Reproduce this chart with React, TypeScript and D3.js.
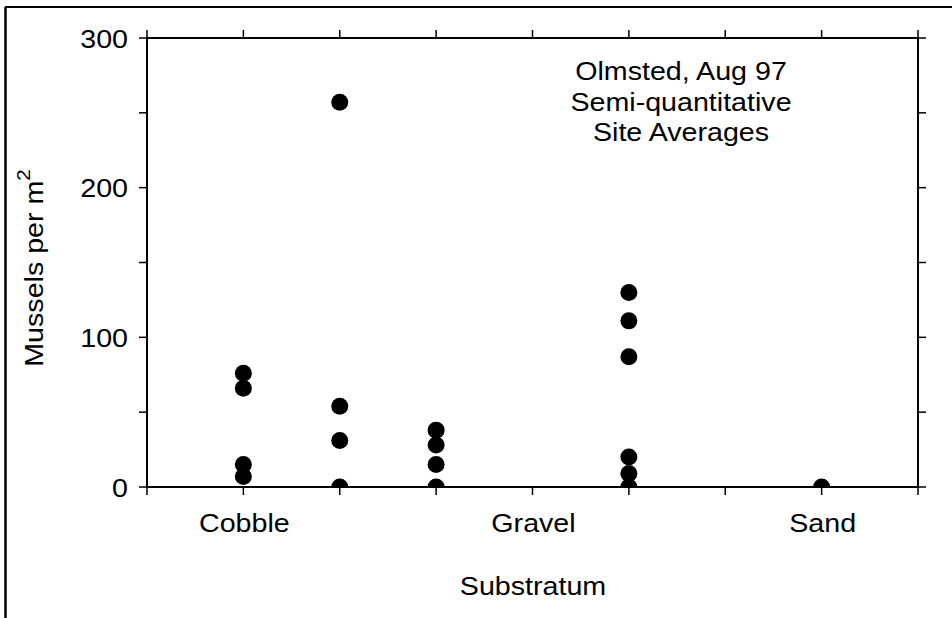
import React from "react";
import * as d3 from "d3";

const columnPositions = [1, 2, 3, 5, 7];
const siteValues: number[][] = [
  [76, 66, 15, 7],
  [257, 54, 31, 0],
  [38, 28, 15, 0],
  [130, 111, 87, 20, 9, 0],
  [0],
];
const categoryLabels = ["Cobble", "Gravel", "Sand"];
const categoryPositions = [1, 4, 7];
const xTickValues = [0, 1, 2, 3, 4, 5, 6, 7, 8];
const yTickValues = [0, 50, 100, 150, 200, 250, 300];
const yLabelValues = [0, 100, 200, 300];
const annotationLines = ["Olmsted, Aug 97", "Semi-quantitative", "Site Averages"];

const W = 952;
const H = 618;
const left = 147;
const right = 918;
const top = 38;
const bottom = 487;
const FONT = "'Liberation Sans', Arial, Helvetica, sans-serif";
const FS = 26.5;
const SX = 1.08;

export default function App() {
  const x = d3.scaleLinear().domain([0, 8]).range([left, right]);
  const y = d3.scaleLinear().domain([0, 300]).range([bottom, top]);
  const tickLen = 8;

  const points = siteValues.flatMap((vals, i) =>
    vals.map((v) => ({ px: columnPositions[i], v }))
  );

  const T = (props: {
    x: number;
    y: number;
    anchor?: string;
    children: React.ReactNode;
  }) => (
    <text
      transform={`translate(${props.x},${props.y}) scale(${SX},1)`}
      textAnchor={props.anchor || "middle"}
      fontFamily={FONT}
      fontSize={FS}
      fill="#000"
    >
      {props.children}
    </text>
  );

  return (
    <svg
      width={W}
      height={H}
      style={{ position: "absolute", left: 0, top: 0, background: "#fff" }}
    >
      <rect x={0} y={0} width={W} height={H} fill="#fff" />
      {/* outer frame */}
      <line x1={5} y1={7} x2={W} y2={7} stroke="#000" strokeWidth={2} />
      <line x1={5.5} y1={7} x2={5.5} y2={H} stroke="#000" strokeWidth={2.5} />

      <defs>
        <clipPath id="plotClip">
          <rect x={left} y={top} width={right - left} height={bottom - top} />
        </clipPath>
      </defs>

      {/* data points */}
      <g clipPath="url(#plotClip)">
        {points.map((p, i) => (
          <circle key={i} cx={x(p.px)} cy={y(p.v)} r={8.5} fill="#000" />
        ))}
      </g>

      {/* axes frame */}
      <rect
        x={left}
        y={top}
        width={right - left}
        height={bottom - top}
        fill="none"
        stroke="#000"
        strokeWidth={2}
      />

      {/* x ticks bottom & top */}
      {xTickValues.map((t) => (
        <g key={"xt" + t}>
          <line x1={x(t)} x2={x(t)} y1={bottom} y2={bottom + tickLen} stroke="#000" strokeWidth={1.5} />
          <line x1={x(t)} x2={x(t)} y1={top} y2={top - tickLen} stroke="#000" strokeWidth={1.5} />
        </g>
      ))}
      {/* y ticks left & right */}
      {yTickValues.map((t) => (
        <g key={"yt" + t}>
          <line x1={left} x2={left - tickLen} y1={y(t)} y2={y(t)} stroke="#000" strokeWidth={1.5} />
          <line x1={right} x2={right + tickLen} y1={y(t)} y2={y(t)} stroke="#000" strokeWidth={1.5} />
        </g>
      ))}

      {/* y tick labels */}
      {yLabelValues.map((t) => (
        <T key={"yl" + t} x={left - 19} y={y(t) + 9.5} anchor="end">
          {String(t)}
        </T>
      ))}

      {/* x category labels */}
      {categoryLabels.map((c, i) => (
        <T key={c} x={x(categoryPositions[i]) + 1} y={532}>
          {c}
        </T>
      ))}

      {/* axis titles */}
      <T x={533} y={595}>Substratum</T>
      <text
        transform={`translate(43,268) rotate(-90) scale(${SX},1)`}
        textAnchor="middle"
        fontFamily={FONT}
        fontSize={FS}
        fill="#000"
      >
        Mussels per m
        <tspan fontSize={19} dy={-13}>2</tspan>
      </text>

      {/* annotation */}
      {annotationLines.map((l, i) => (
        <T key={l} x={681} y={80 + i * 30.5}>
          {l}
        </T>
      ))}
    </svg>
  );
}
